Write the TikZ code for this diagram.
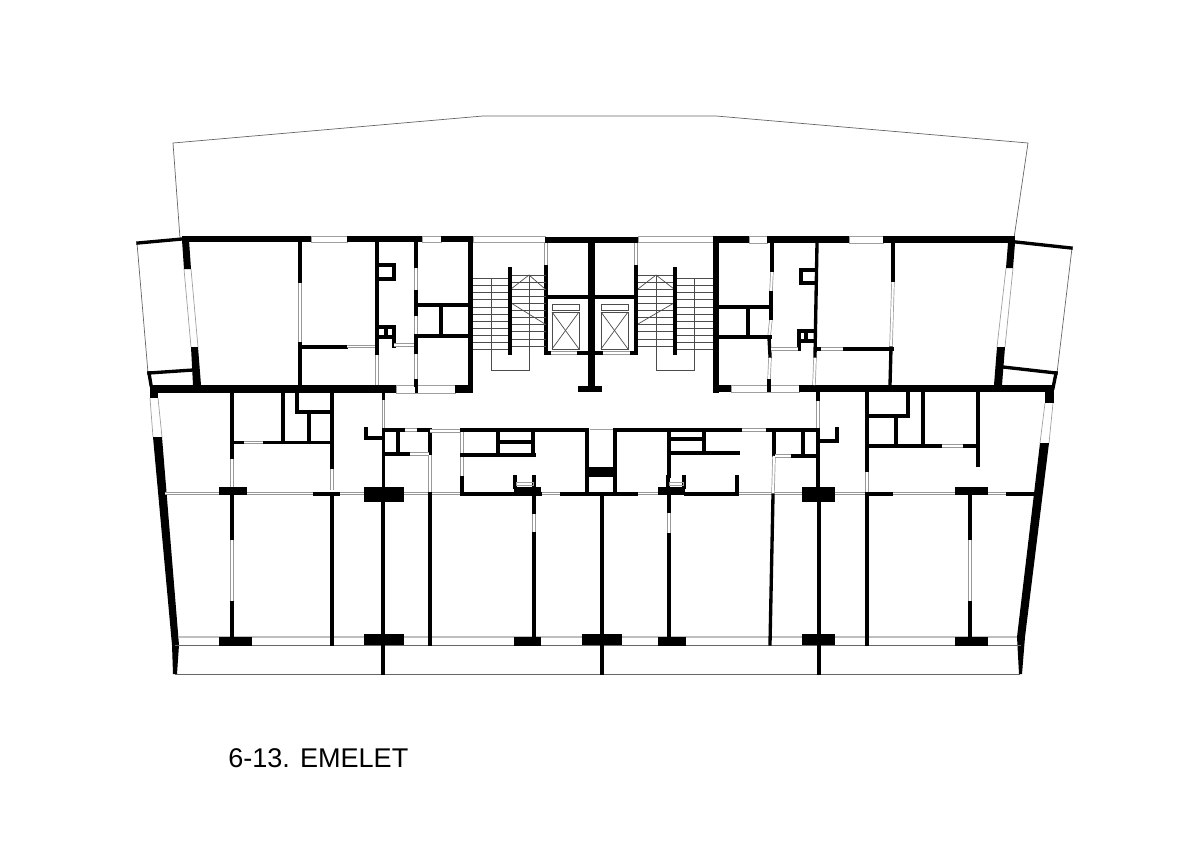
\documentclass[tikz,border=0pt]{standalone}
\usepackage{fontspec}
\setmainfont{Liberation Sans}
\tikzset{
  wall/.style={black, line width=1.9pt, line cap=rect},
  glass/.style={draw=gray!80, line width=0.4pt, double=white, double distance=1.1pt},
  sill/.style={draw=gray!50, line width=0.9pt},
  pane/.style={draw=gray!75, line width=0.4pt},
  outline/.style={draw=black!60, line width=0.4pt},
  tread/.style={draw=black!70, line width=0.4pt},
}
\begin{document}
\begin{tikzpicture}[x=0.02cm,y=-0.02cm]
\useasboundingbox (0,0) rectangle (1200,848);

\draw[outline] (180,238) -- (173,143) -- (483,116) -- (716,116) -- (1028,143) -- (1014,238);
\draw[outline] (137,243) -- (148,373);
\draw[outline] (1072,248) -- (1057,373);

\draw[pane] (184,269) -- (191,347);
\draw[pane] (191,269) -- (198,347);
\draw[pane] (150,398) -- (153,437);
\draw[pane] (158,398) -- (162,437);
\draw[pane] (1006,268) -- (997,347);
\draw[pane] (1013,268) -- (1005,347);
\draw[pane] (1045,403) -- (1040,443);
\draw[pane] (1053,403) -- (1049,443);

\draw[pane] (311,236) rectangle (347,242);
\draw[pane] (422,236) rectangle (441,242);
\draw[pane] (396,385) rectangle (455,393);
\draw[pane] (473,236) rectangle (545,242);
\draw[pane] (638,236) rectangle (713,242);
\draw[pane] (749,236) rectangle (767,243);
\draw[pane] (849,236) rectangle (883,243);
\draw[pane] (731,385) rectangle (799,392);

\fill (182,236) rectangle (311,242);
\fill (347,236) rectangle (422,242);
\fill (441,236) rectangle (473,242);
\fill (468,236) rectangle (473,393);
\fill (150,385) rectangle (396,393);
\fill (415,385) rectangle (418,393);
\fill (455,385) rectangle (473,393);
\fill (182,240) -- (189,240) -- (191,269) -- (184,269) -- cycle;
\fill (191,347) -- (198,347) -- (201,385) -- (193,385) -- cycle;
\fill (150,385) rectangle (158,398);
\fill (153,437) -- (162,437) -- (179,645) -- (177,674) -- (173,674) -- (172,645) -- cycle;

\fill (713,236) rectangle (749,243);
\fill (767,236) rectangle (849,243);
\fill (883,236) rectangle (1015,243);
\fill (713,236) rectangle (719,393);
\fill (713,385) rectangle (731,392);
\fill (767,385) rectangle (771,392);
\fill (799,385) rectangle (1053,392);
\fill (1008,243) -- (1015,243) -- (1013,268) -- (1006,268) -- cycle;
\fill (997,347) -- (1005,347) -- (1002,385) -- (994,385) -- cycle;
\fill (1045,388) rectangle (1054,403);
\fill (1040,443) -- (1049,443) -- (1025,637) -- (1022,674) -- (1019,674) -- (1017,637) -- cycle;

\fill (545,237) rectangle (638,243);
\fill (588,243) rectangle (595,386);
\fill (578,386) rectangle (602,392);

\draw[wall] (138,243) -- (182,239);
\draw[wall] (149,373) -- (193,370);
\draw[wall] (149,373) -- (151,385);
\draw[wall] (1016,242) -- (1071,248);
\draw[wall] (1003,367) -- (1056,373);
\draw[wall] (1056,373) -- (1053,388);

\draw[glass] (300,282) -- (300,343);
\draw[wall] (300,242) -- (300,281);
\draw[wall] (300,344) -- (300,385);
\draw[wall] (301,347) -- (346,347);
\draw[glass] (347,346.5) -- (375,346.5);
\draw[glass] (377,354) -- (377,385);
\draw[wall] (377,242) -- (377,353);
\draw[wall] (378,265) -- (394,265) -- (394,279) -- (378,279);
\draw[wall] (378,327) -- (394,327) -- (394,346);
\draw[wall] (378,337) -- (394,337);
\draw[wall] (386,327) -- (386,337);
\draw[glass] (394,345) -- (415,345);
\draw[glass] (416,267) -- (416,291);
\draw[glass] (416,315) -- (416,335);
\draw[glass] (416,353) -- (416,380);
\draw[wall] (416,242) -- (416,266);
\draw[wall] (416,292) -- (416,314);
\draw[wall] (416,336) -- (416,352);
\draw[wall] (416,381) -- (416,385);
\draw[wall] (416,305) -- (468,305);
\draw[wall] (441,305) -- (441,336);
\draw[wall] (416,336) -- (468,336);

\draw[glass] (546,243) -- (546,266);
\draw[glass] (636,243) -- (636,266);
\draw[wall] (546,267) -- (546,353);
\draw[wall] (636,267) -- (636,353);
\draw[wall] (546,297) -- (636,297);
\draw[glass] (550,353) -- (578,353);
\draw[glass] (602,353) -- (631,353);
\draw[wall] (546,353) -- (549,353);
\draw[wall] (579,353) -- (601,353);
\draw[wall] (632,353) -- (636,353);
\draw[tread] (552,304) rectangle (579,310);
\draw[tread] (552,312) rectangle (579,349);
\draw[tread] (552,312) -- (579,349);
\draw[tread] (579,312) -- (552,349);
\draw[tread] (601,304) rectangle (628,310);
\draw[tread] (601,312) rectangle (628,349);
\draw[tread] (601,312) -- (628,349);
\draw[tread] (628,312) -- (601,349);

\foreach \ypos in {278.5,285.6,...,351} {
  \draw[tread] (473,\ypos) -- (510,\ypos);
  \draw[tread] (675,\ypos) -- (713,\ypos);
}
\foreach \ypos in {275,282.1,...,348} {
  \draw[tread] (510,\ypos) -- (546,\ypos);
  \draw[tread] (638,\ypos) -- (675,\ypos);
}
\draw[tread] (491,279) -- (491,370) -- (529,370) -- (529,275);
\draw[tread] (656,275) -- (656,370) -- (694,370) -- (694,279);
\draw[tread] (511,289) -- (529,275) -- (545,289);
\draw[tread] (511,303) -- (545,324);
\draw[tread] (638,289) -- (656,275) -- (674,289);
\draw[tread] (638,324) -- (674,303);
\draw[wall] (510,269) -- (510,353);
\draw[wall] (675,269) -- (675,353);

\draw[glass] (772,271) -- (771,292);
\draw[glass] (771,319) -- (769,337);
\draw[glass] (770,357) -- (769,380);
\draw[wall] (772,243) -- (772,270);
\draw[wall] (771,293) -- (771,318);
\draw[wall] (769,338) -- (770,356);
\draw[wall] (769,381) -- (769,385);
\draw[wall] (719,307) -- (771,307);
\draw[wall] (748,307) -- (748,337);
\draw[wall] (719,337) -- (770,337);
\draw[glass] (815,357) -- (814,385);
\draw[wall] (817,243) -- (815,356);
\draw[wall] (816,270) -- (801,270) -- (801,283) -- (816,283);
\draw[wall] (815,331) -- (799,331) -- (799,349);
\draw[wall] (799,341) -- (815,341);
\draw[wall] (806,331) -- (806,341);
\draw[glass] (771,349) -- (798,349);
\draw[glass] (820,349) -- (844,349);
\draw[wall] (816,349) -- (819,349);
\draw[wall] (845,349) -- (892,349);
\draw[glass] (893,281) -- (891,347);
\draw[wall] (893,243) -- (893,280);
\draw[wall] (891,348) -- (890,385);

\draw[glass] (165,493.5) -- (1036,493.5);
\draw[sill] (179,637) -- (1017,637);
\draw[outline] (175,645) -- (1021,645);
\draw[outline] (175,674) -- (1020,674);

\draw[glass] (232,458) -- (232,487);
\draw[wall] (232,393) -- (232,457);
\draw[wall] (232,442.5) -- (243,442.5);
\draw[glass] (244,442.5) -- (264,442.5);
\draw[wall] (265,442.5) -- (332,442.5);
\draw[wall] (283,393) -- (283,442);
\draw[wall] (297,393) -- (297,412) -- (332,412);
\draw[wall] (309,412) -- (309,442);
\draw[glass] (332,468) -- (332,490);
\draw[wall] (332,393) -- (332,467);
\draw[wall] (315,494) -- (338,494);
\draw[wall] (332,494) -- (332,644);
\draw[glass] (232,539) -- (232,602);
\draw[wall] (232,495) -- (232,538);
\draw[wall] (232,603) -- (232,637);

\draw[glass] (383.5,399) -- (383.5,429);
\draw[wall] (383.5,393) -- (383.5,398);
\draw[wall] (383.5,430) -- (383.5,487);
\draw[wall] (383,502) -- (383,673);
\draw[wall] (366,429) -- (366,438) -- (383,438);
\draw[wall] (384,430) -- (404,430);
\draw[glass] (405,430) -- (418,430);
\draw[wall] (419,430) -- (430,430) -- (430,454);
\draw[glass] (430,431) -- (461,431);
\draw[wall] (398,430) -- (398,454);
\draw[wall] (384,454) -- (409,454);
\draw[glass] (410,454) -- (429,454);
\draw[glass] (430,455) -- (430,492);
\draw[wall] (430,494) -- (430,644);

\draw[glass] (462,430) -- (462,477);
\draw[wall] (462,478) -- (462,494) -- (540,494);
\draw[wall] (462,430) -- (587,430);
\draw[wall] (498,430) -- (498,455);
\draw[wall] (533,430) -- (533,455);
\draw[wall] (462,455) -- (534,455);
\draw[wall] (498,442) -- (533,442);
\draw[wall] (515,477) -- (515,487);
\draw[wall] (534,477) -- (534,487);
\draw[pane] (516,482) rectangle (533,485);
\draw[glass] (534,513) -- (534,533);
\draw[wall] (534,495) -- (534,512);
\draw[wall] (534,534) -- (534,637);

\draw[pane] (590,429) -- (615,429);
\draw[wall] (587,430) -- (587,494);
\draw[wall] (615,430) -- (615,494);
\fill (587,467) rectangle (615,477);
\draw[wall] (562,494) -- (636,494);
\draw[wall] (602,494) -- (602,673);
\draw[wall] (615,430) -- (741,430);
\draw[glass] (742,430) -- (766,430);
\draw[wall] (768,430) -- (818,430);

\draw[wall] (669,430) -- (669,476);
\draw[wall] (669,439) -- (704,439);
\draw[wall] (704,430) -- (704,453);
\draw[wall] (669,453) -- (738,453);
\draw[wall] (668,477) -- (668,487);
\draw[wall] (684,477) -- (684,487);
\draw[pane] (669,482) rectangle (683,485);
\draw[wall] (686,494) -- (737,494) -- (737,477);
\draw[glass] (669,512) -- (669,534);
\draw[wall] (669,495) -- (669,511);
\draw[wall] (669,535) -- (669,637);

\draw[wall] (774,430) -- (774,455);
\draw[glass] (774,456) -- (773,493);
\draw[glass] (775,456) -- (792,456);
\draw[wall] (793,456) -- (818,456);
\draw[wall] (803,430) -- (803,455);
\draw[wall] (773,495) -- (770,644);
\draw[glass] (818,400) -- (818,429);
\draw[wall] (818,392) -- (818,399);
\draw[wall] (818,430) -- (818,487);
\draw[wall] (819,502) -- (819,673);
\draw[wall] (819,441) -- (837,441) -- (837,429);

\draw[glass] (867,471) -- (867,493);
\draw[wall] (867,392) -- (867,470);
\draw[wall] (867,494) -- (867,644);
\draw[wall] (867,494) -- (891,494);
\draw[wall] (867,416) -- (908,416) -- (908,392);
\draw[wall] (896,416) -- (896,446);
\draw[wall] (923,392) -- (923,446);
\draw[wall] (867,446) -- (941,446);
\draw[glass] (942,446) -- (964,446);
\draw[wall] (965,446) -- (978,446);
\draw[wall] (978,392) -- (978,465);
\draw[wall] (1008,494) -- (1034,494);
\draw[glass] (970,539) -- (970,602);
\draw[wall] (970,495) -- (970,538);
\draw[wall] (970,603) -- (970,637);

\fill (219,487) rectangle (247,495);
\fill (364,487) rectangle (404,502);
\fill (514,487) rectangle (541,495);
\fill (658,487) rectangle (685,495);
\fill (802,487) rectangle (835,502);
\fill (955,487) rectangle (988,495);
\fill (219,637) rectangle (252,646);
\fill (364,634) rectangle (404,645);
\fill (514,637) rectangle (541,646);
\fill (582,634) rectangle (622,645);
\fill (658,637) rectangle (686,646);
\fill (802,634) rectangle (835,645);
\fill (955,637) rectangle (988,646);

\node[anchor=base west, inner sep=0pt, font=\fontsize{15.4pt}{18pt}\selectfont] (floorlabel) at (228,767) {6-13. EMELET};
\end{tikzpicture}
\end{document}
